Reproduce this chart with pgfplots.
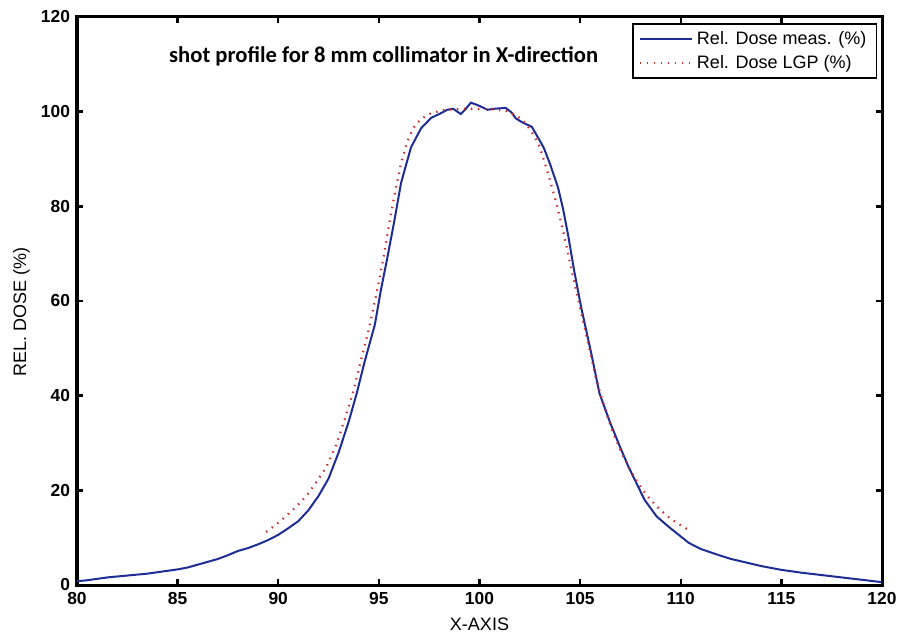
\documentclass[border=0pt]{standalone}
\usepackage{fontspec}
\setmainfont{Liberation Sans}
\newfontfamily\carlito{Carlito}
\usepackage{pgfplots}
\pgfplotsset{compat=1.18}
\definecolor{measblue}{RGB}{30,45,150}
\definecolor{lgpred}{RGB}{200,40,40}
\begin{document}
\begin{tikzpicture}
\path[use as bounding box] (-38.5pt,-24pt) rectangle (416pt,292.5pt);
\begin{axis}[
  at={(0,0)}, anchor=south west,
  scale only axis, width=402.5pt, height=284pt,
  xmin=80, xmax=120, ymin=0, ymax=120,
  xtick={80,85,...,120}, ytick={0,20,...,120},
  tick align=inside, major tick length=3pt,
  axis line style={line width=1.5pt},
  every tick/.style={black, line width=1.2pt},
  /pgf/number format/assume math mode=true,
  ticklabel style={font=\bfseries\fontsize{8.7}{10}\selectfont},
  xlabel={X-AXIS}, ylabel={REL. DOSE (\%)},
  label style={font=\fontsize{9}{10}\selectfont},
  xlabel style={at={(axis description cs:0.5,0)}, anchor=center, yshift=-19.5pt},
  ylabel style={at={(axis description cs:-0.069,0.48)}, anchor=center},
  legend style={at={(rel axis cs:0.994,0.989)}, anchor=north east, draw=black, line width=0.8pt,
    font=\fontsize{9}{10.5}\selectfont, inner xsep=3pt, inner ysep=1.5pt, row sep=0pt},
  legend cell align=left,
  legend image code/.code={\draw[#1] (0pt,0pt) -- (26pt,0pt);},
]
\addplot[measblue, line width=1pt] coordinates {
(80.0,0.8)(80.5,1.0)(81,1.3)(81.5,1.6)(82,1.8)(82.5,2.0)(83,2.2)(83.5,2.4)(84,2.7)(84.5,3.0)
(85,3.3)(85.5,3.7)(86,4.3)(86.5,4.9)(87,5.5)(87.5,6.3)(88,7.2)(88.5,7.8)(89,8.6)(89.5,9.5)
(90,10.6)(90.5,12.0)(91,13.5)(91.5,15.8)(92,18.8)(92.5,22.5)(93,28.0)(93.5,34.5)(93.9,40.5)
(94.3,47.3)(94.8,55)(95.1,62.3)(95.4,68.7)(95.75,76.5)(96.1,84.9)(96.4,89.5)(96.6,92.5)
(96.85,94.5)(97.1,96.5)(97.6,98.7)(98.0,99.5)(98.4,100.4)(98.7,100.6)(99.07,99.5)(99.3,100.5)
(99.57,101.9)(99.9,101.4)(100.2,100.8)(100.4,100.4)(100.7,100.6)(101.0,100.7)(101.3,100.8)
(101.6,99.8)(101.8,98.6)(102.1,97.8)(102.6,96.8)(103.06,93.4)(103.2,92.3)(103.5,89.0)
(103.9,84.0)(104.15,79.5)(104.4,74.0)(104.7,66.5)(105.05,58.7)(105.55,49)(105.96,40.5)
(106.5,34.2)(107.0,29)(107.4,25)(108.2,18)(108.8,14.5)(109.4,12.3)(110.4,8.9)(111.0,7.6)
(111.9,6.3)(112.5,5.5)(113.4,4.6)(114,4.0)(115,3.2)(116,2.6)(117,2.1)(118,1.6)(119,1.1)(120,0.6)
};
\addlegendentry{Rel. Dose meas. (\%)}
\addplot[lgpred, line width=1.1pt, dash pattern=on 0.7pt off 2.8pt] coordinates {
(89.4,11.2)(89.9,12.8)(90.4,14.6)(90.9,16.6)(91.4,18.8)(91.9,21.8)(92.4,25.0)(92.9,29.8)
(93.3,35)(93.7,40.5)(94.1,47.3)(94.5,54)(94.9,62)(95.2,68.5)(95.5,76)(95.8,83)(96.1,89)
(96.4,93.5)(96.7,96.5)(97.1,98.5)(97.6,99.7)(98.2,100.3)(99.0,100.6)(99.8,100.6)(100.6,100.5)
(101.3,100.2)(101.9,99)(102.3,97.5)(102.7,95)(103.0,92.5)(103.4,87)(103.8,81)(104.2,74)
(104.6,66)(105.0,58.5)(105.4,51)(105.8,43.5)(106.2,37.6)(106.6,32.5)(107.0,28.5)(107.5,24.2)
(108.0,20.7)(108.5,18.0)(109.0,15.8)(109.5,14.0)(110.0,12.6)(110.4,11.6)
};
\addlegendentry{Rel. Dose LGP (\%)}
\node[font=\carlito\bfseries\fontsize{11.3}{13}\selectfont, anchor=center] at (rel axis cs:0.381,0.93) {shot profile for 8 mm collimator in X-direction};
\end{axis}
\end{tikzpicture}
\end{document}
